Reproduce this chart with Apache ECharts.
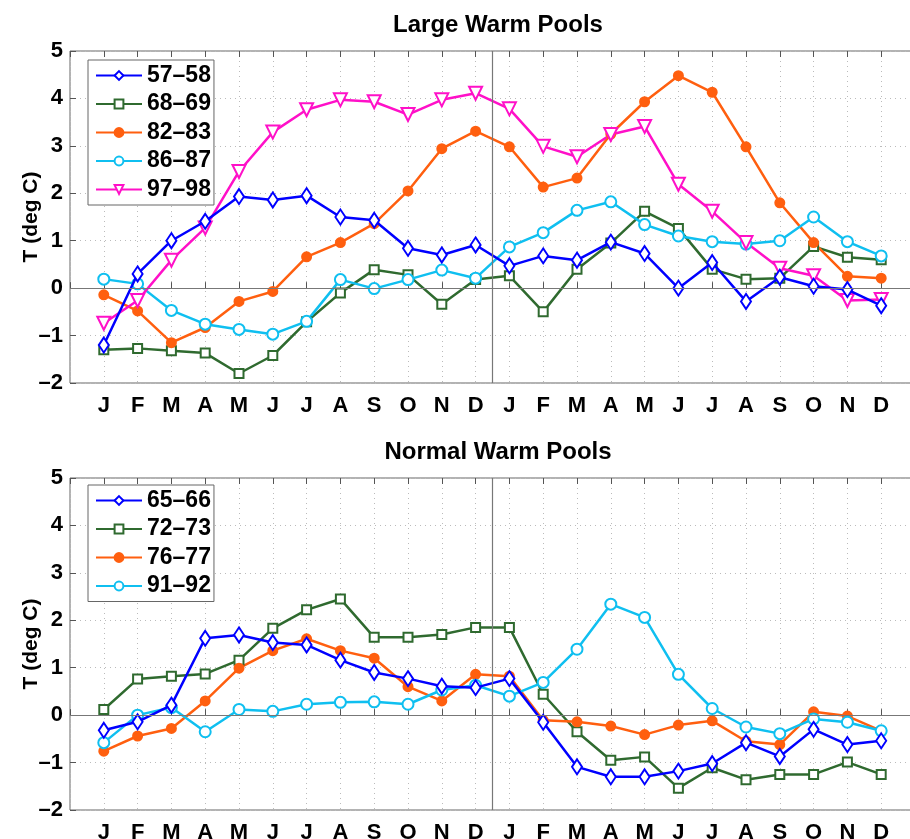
<!DOCTYPE html>
<html>
<head>
<meta charset="utf-8">
<script src="https://cdn.jsdelivr.net/npm/echarts@6/dist/echarts.min.js"></script>
<style>
  html, body { margin: 0; padding: 0; background: #fff; }
</style>
</head>
<body>
<div id="chart" style="width:910px;height:839px;"></div>
<script>
// month tick labels, two years
var months = ["J","F","M","A","M","J","J","A","S","O","N","D",
              "J","F","M","A","M","J","J","A","S","O","N","D"];
var yTicks = [-2, -1, 0, 1, 2, 3, 4, 5];

// Large Warm Pools
var large5758 = [-1.2, 0.30, 1.0, 1.41, 1.93, 1.86, 1.95, 1.50, 1.43, 0.84, 0.70, 0.91,
                 0.47, 0.68, 0.59, 0.97, 0.73, 0.0, 0.54, -0.28, 0.23, 0.04, -0.03, -0.37];
var large6869 = [-1.30, -1.27, -1.32, -1.37, -1.80, -1.42, -0.71, -0.10, 0.39, 0.28, -0.34, 0.18,
                 0.26, -0.50, 0.40, 0.95, 1.62, 1.26, 0.40, 0.19, 0.21, 0.88, 0.65, 0.60];
var large8283 = [-0.14, -0.48, -1.15, -0.83, -0.28, -0.07, 0.66, 0.96, 1.36, 2.05, 2.94, 3.31,
                 2.98, 2.13, 2.32, 3.25, 3.93, 4.48, 4.13, 2.98, 1.80, 0.96, 0.25, 0.21];
var large8687 = [0.19, 0.09, -0.47, -0.76, -0.87, -0.97, -0.70, 0.18, -0.01, 0.18, 0.38, 0.21,
                 0.87, 1.17, 1.64, 1.82, 1.34, 1.10, 0.98, 0.93, 1.00, 1.50, 0.98, 0.68];
var large9798 = [-0.74, -0.26, 0.59, 1.27, 2.46, 3.29, 3.76, 3.97, 3.93, 3.66, 3.97, 4.11,
                 3.78, 2.99, 2.77, 3.24, 3.41, 2.19, 1.62, 0.96, 0.42, 0.26, -0.26, -0.24];

// Normal Warm Pools
var normal6566 = [-0.32, -0.14, 0.21, 1.62, 1.69, 1.53, 1.48, 1.16, 0.90, 0.77, 0.61, 0.58,
                  0.77, -0.15, -1.09, -1.30, -1.30, -1.18, -1.02, -0.58, -0.87, -0.30, -0.62, -0.54];
var normal7273 = [0.12, 0.76, 0.82, 0.87, 1.16, 1.83, 2.22, 2.45, 1.64, 1.64, 1.70, 1.85,
                  1.85, 0.44, -0.35, -0.95, -0.88, -1.54, -1.11, -1.36, -1.25, -1.25, -0.99, -1.25];
var normal7677 = [-0.76, -0.44, -0.28, 0.30, 0.99, 1.36, 1.61, 1.36, 1.20, 0.60, 0.30, 0.86,
                  0.82, -0.11, -0.14, -0.23, -0.41, -0.21, -0.12, -0.55, -0.62, 0.07, -0.02, -0.33];
var normal9192 = [-0.58, 0.0, 0.16, -0.35, 0.12, 0.08, 0.23, 0.27, 0.28, 0.23, 0.53, 0.63,
                  0.40, 0.69, 1.39, 2.34, 2.06, 0.86, 0.14, -0.25, -0.39, -0.08, -0.15, -0.33];

var BLUE = "#0000ff", GREEN = "#2f6a2f", ORANGE = "#ff5f0f", CYAN = "#0fbff0", MAGENTA = "#ff10c8";
var FONT = "Liberation Sans";

function pts(arr) {
  return arr.map(function (v, i) { return [i + 1, v]; });
}

var chart = echarts.init(document.getElementById("chart"));

function makeX(gi, pos) {
  return {
    type: "value", gridIndex: gi, position: pos,
    min: 0, max: 25, interval: 1,
    axisLine: { show: false },
    axisTick: { show: true, inside: true, length: 6, lineStyle: { color: "#555" } },
    splitLine: pos === "bottom" ? { show: true, lineStyle: { color: "#bbb", type: [1, 4] } } : { show: false },
    axisLabel: pos === "bottom" ? {
      show: true, margin: 12, fontFamily: FONT, fontWeight: "bold", fontSize: 22, color: "#000",
      formatter: function (v) { return months[v - 1] || ""; }
    } : { show: false }
  };
}

function makeY(gi) {
  return {
    type: "value", gridIndex: gi,
    min: yTicks[0], max: yTicks[yTicks.length - 1], interval: 1,
    axisLine: { show: false },
    axisTick: { show: true, inside: true, length: 6, lineStyle: { color: "#555" } },
    splitLine: { show: true, lineStyle: { color: "#bbb", type: [1, 4] } },
    axisLabel: {
      margin: 7, fontFamily: FONT, fontWeight: "bold", fontSize: 22, color: "#000",
      formatter: function (v) { return String(v).replace("-", "\u2013"); }
    },
    name: "T (deg C)", nameLocation: "middle", nameGap: 28, nameMoveOverlap: false,
    nameTextStyle: { fontFamily: FONT, fontWeight: "bold", fontSize: 21, color: "#000" }
  };
}

function line(name, data, gi, color, symbol, size, extra) {
  var s = {
    name: name, type: "line", xAxisIndex: gi * 2, yAxisIndex: gi,
    data: pts(data), symbol: symbol, symbolSize: size,
    showAllSymbol: true, z: 3,
    lineStyle: { color: color, width: 2.5 },
    itemStyle: { color: color, borderColor: color, borderWidth: 2 },
    emphasis: { disabled: true }
  };
  if (extra) { for (var k in extra) s[k] = extra[k]; }
  return s;
}

var refLines = {
  silent: true, symbol: "none", label: { show: false },
  lineStyle: { color: "#777", width: 1.2, type: "solid" },
  data: [{ yAxis: 0 }, { xAxis: 12.5 }]
};

var legendBase = {
  orient: "vertical", left: 88,
  backgroundColor: "#fff", borderColor: "#666", borderWidth: 1,
  padding: [4, 3, 4, 7], itemWidth: 46, itemHeight: 11, itemGap: 5.5,
  textStyle: { fontFamily: FONT, fontWeight: "bold", fontSize: 23, color: "#000", lineHeight: 22 },
  selectedMode: false
};

chart.setOption({
  animation: false,
  backgroundColor: "#fff",
  title: [
    { text: "Large Warm Pools", left: 493, top: 8, textAlign: "center",
      textStyle: { fontFamily: FONT, fontWeight: "bold", fontSize: 24, color: "#000" } },
    { text: "Normal Warm Pools", left: 493, top: 435, textAlign: "center",
      textStyle: { fontFamily: FONT, fontWeight: "bold", fontSize: 24, color: "#000" } }
  ],
  legend: [
    Object.assign({ top: 60, data: ["57\u201358", "68\u201369", "82\u201383", "86\u201387",
      { name: "97\u201398", symbolRotate: 180 }] }, legendBase),
    Object.assign({ top: 485, data: ["65\u201366", "72\u201373", "76\u201377", "91\u201392"] }, legendBase)
  ],
  grid: [
    { left: 70, top: 51, width: 845, height: 332, show: true, borderColor: "#666", borderWidth: 1, outerBoundsMode: "none" },
    { left: 70, top: 478, width: 845, height: 332, show: true, borderColor: "#666", borderWidth: 1, outerBoundsMode: "none" }
  ],
  xAxis: [makeX(0, "bottom"), makeX(0, "top"), makeX(1, "bottom"), makeX(1, "top")],
  yAxis: [makeY(0), makeY(1)],
  series: [
    line("57\u201358", large5758, 0, BLUE, "emptyDiamond", [10, 15], { markLine: refLines, z: 4 }),
    line("68\u201369", large6869, 0, GREEN, "emptyRect", 9),
    line("82\u201383", large8283, 0, ORANGE, "circle", 9),
    line("86\u201387", large8687, 0, CYAN, "emptyCircle", 11),
    line("97\u201398", large9798, 0, MAGENTA, "emptyTriangle", 13, { symbolRotate: 180 }),

    line("65\u201366", normal6566, 1, BLUE, "emptyDiamond", [10, 15], { markLine: refLines, z: 4 }),
    line("72\u201373", normal7273, 1, GREEN, "emptyRect", 9),
    line("76\u201377", normal7677, 1, ORANGE, "circle", 9),
    line("91\u201392", normal9192, 1, CYAN, "emptyCircle", 11)
  ]
});
</script>
</body>
</html>
